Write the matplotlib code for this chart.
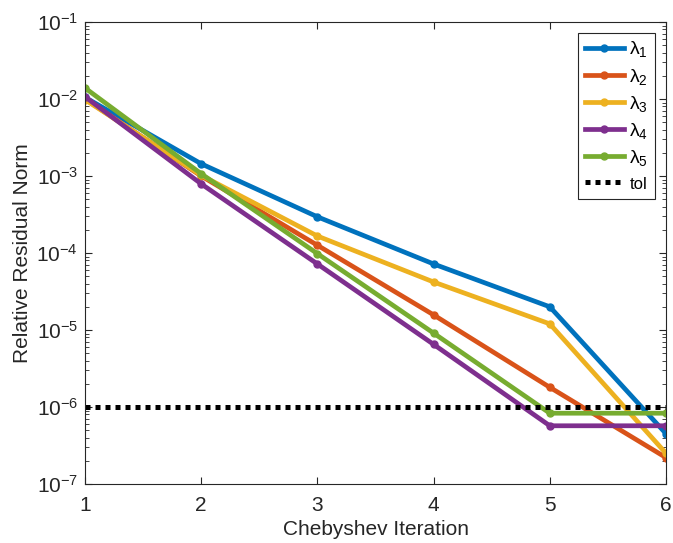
import math

import matplotlib
matplotlib.use("Agg")
import matplotlib.pyplot as plt
from matplotlib.ticker import FixedLocator, FuncFormatter, NullFormatter, NullLocator

plt.rcParams["font.family"] = ["Liberation Sans", "DejaVu Sans"]

iterations = [1, 2, 3, 4, 5, 6]
lambda_1 = [1.05e-2, 1.44e-3, 2.95e-4, 7.2e-5, 2.0e-5, 4.5e-7]
lambda_2 = [1.0e-2, 1.0e-3, 1.26e-4, 1.57e-5, 1.8e-6, 2.2e-7]
lambda_3 = [0.98e-2, 1.02e-3, 1.66e-4, 4.2e-5, 1.2e-5, 2.5e-7]
lambda_4 = [1.07e-2, 7.9e-4, 7.2e-5, 6.5e-6, 5.7e-7, 5.7e-7]
lambda_5 = [1.39e-2, 1.07e-3, 9.8e-5, 9.1e-6, 8.3e-7, 8.3e-7]
tol = 1e-6
decades = [-7, -6, -5, -4, -3, -2, -1]

series = [lambda_1, lambda_2, lambda_3, lambda_4, lambda_5]
labels = [r"$\mathregular{\lambda_%d}$" % i for i in range(1, 6)]
colors = ["#0072BD", "#D95319", "#EDB120", "#7E2F8E", "#77AC30"]


def decade_label(value, _pos):
    return r"$\mathregular{10^{%d}}$" % round(math.log10(value))


fig = plt.figure(figsize=(6.73, 5.43), dpi=100)
ax = fig.add_axes([0.1263, 0.1087, 0.8633, 0.8508])

for values, label, color in zip(series, labels, colors):
    ax.plot(iterations, values, color=color, linewidth=3.4, marker="o",
            markersize=5, label=label)
ax.plot([iterations[0], iterations[-1]], [tol, tol], color="black",
        linewidth=3.6, linestyle=(0, (1, 1)), label="tol")

ax.set_yscale("log")
ax.set_xlim(1, 6)
ax.set_ylim(10.0 ** decades[0], 10.0 ** decades[-1])
ax.set_xticks(iterations)
ax.xaxis.set_minor_locator(NullLocator())

# only ticks inside the view, so no stray labels hang off the figure
major = [10.0 ** d for d in decades]
minor = [m * 10.0 ** d for d in decades[:-1] for m in range(2, 10)]
ax.yaxis.set_major_locator(FixedLocator(major))
ax.yaxis.set_minor_locator(FixedLocator(minor))
ax.yaxis.set_major_formatter(FuncFormatter(decade_label))
ax.yaxis.set_minor_formatter(NullFormatter())

edge = "#262626"
for spine in ax.spines.values():
    spine.set_color(edge)
    spine.set_linewidth(0.8)
ax.tick_params(which="both", direction="in", top=True, right=True,
               colors=edge, labelsize=15)
ax.tick_params(which="major", length=5)
ax.tick_params(which="minor", length=3)
ax.tick_params(axis="x", pad=9)
ax.tick_params(axis="y", pad=5)

ax.set_xlabel("Chebyshev Iteration", fontsize=15, color=edge, labelpad=3)
ax.set_ylabel("Relative Residual Norm", fontsize=15, color=edge, labelpad=3)

legend = ax.legend(loc="upper right", fontsize=14, handlelength=2.0,
                   handletextpad=0.3, borderpad=0.35, fancybox=False,
                   framealpha=1, borderaxespad=0.55, labelspacing=0.37)
legend.get_frame().set_edgecolor(edge)
legend.get_frame().set_linewidth(0.8)
legend.get_texts()[-1].set_fontsize(12)

fig.savefig("out.png", dpi=100)
